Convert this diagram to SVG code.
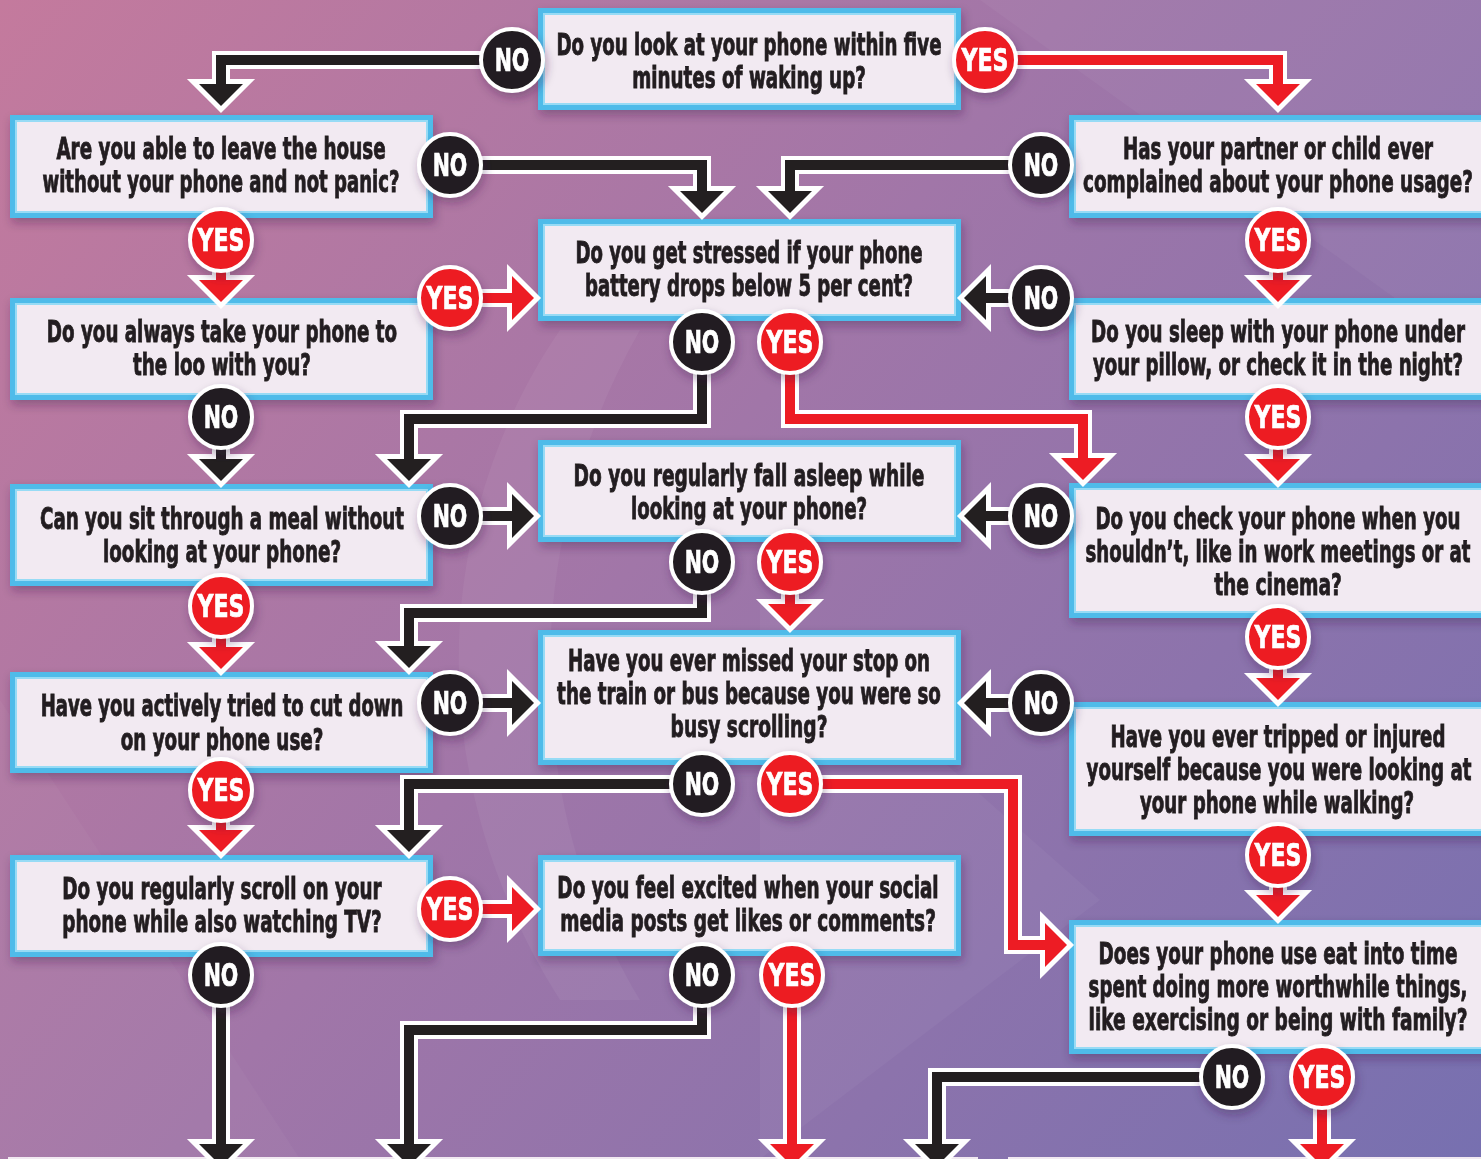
<svg xmlns="http://www.w3.org/2000/svg" width="1481" height="1159" viewBox="0 0 1481 1159">
<defs>
<linearGradient id="bg" x1="0" y1="0" x2="1481" y2="1159" gradientUnits="userSpaceOnUse">
<stop offset="0" stop-color="#c47a9d"/>
<stop offset="0.45" stop-color="#a176a8"/>
<stop offset="1" stop-color="#7770b0"/>
</linearGradient>
<filter id="sh" x="-20%" y="-20%" width="140%" height="150%">
<feDropShadow dx="2" dy="5" stdDeviation="5" flood-color="#3b1d4a" flood-opacity="0.35"/>
</filter>
<style>
.bo{fill:#50bbe9}
.bi{fill:#97dbf5}
.bf{fill:#f2eaf2}
.q{font-family:"Liberation Sans Narrow","DejaVu Sans Condensed","Liberation Sans",sans-serif;font-weight:700;font-size:31px;fill:#231f20;stroke:#231f20;stroke-width:0.9;text-anchor:middle}
.lb{font-family:"Liberation Sans Narrow","DejaVu Sans Condensed","Liberation Sans",sans-serif;font-weight:700;font-size:32px;fill:#fff;stroke:#fff;stroke-width:0.7;text-anchor:middle}
.no{fill:#231f20;stroke:#fff;stroke-width:4}
.yes{fill:#ed1c24;stroke:#fff;stroke-width:4}
.ws{fill:none;stroke:#fff;stroke-width:18;stroke-linejoin:miter;stroke-linecap:butt}
.wh{fill:#fff;stroke:#fff;stroke-width:10;stroke-linejoin:miter;stroke-miterlimit:10}
.ks{fill:none;stroke:#231f20;stroke-width:10;stroke-linejoin:miter}
.kh{fill:#231f20}
.rs{fill:none;stroke:#ed1c24;stroke-width:10;stroke-linejoin:miter}
.rh{fill:#ed1c24}
</style>
</defs>
<rect width="1481" height="1159" fill="url(#bg)"/>
<g fill="#fff">
<polygon points="980,0 1481,0 1481,360" opacity="0.04"/>
<path d="M560,330 C430,520 420,780 560,1000 L640,1000 C520,800 520,540 640,330 Z" opacity="0.05"/>
<polygon points="0,700 300,1159 0,1159" opacity="0.03"/>
<polygon points="760,600 1100,900 760,1159" opacity="0.04"/>
</g>
<g id="bottom-strips" fill="#f1e9f1">
<rect x="8" y="1157" width="970" height="2"/>
<rect x="1008" y="1157" width="473" height="2"/>
</g>
<g id="boxes" filter="url(#sh)">
<g id="q-wake"><rect class="bo" x="538" y="8" width="423" height="102"/><rect class="bi" x="543" y="13" width="413" height="92"/><rect class="bf" x="545" y="15" width="409" height="88"/>
<text class="q" transform="translate(749,0) scale(0.62,1)" x="0" y="55" textLength="621" lengthAdjust="spacingAndGlyphs">Do you look at your phone within five</text>
<text class="q" transform="translate(749,0) scale(0.62,1)" x="0" y="88" textLength="377" lengthAdjust="spacingAndGlyphs">minutes of waking up?</text></g>
<g id="q-leave"><rect class="bo" x="10" y="115" width="423" height="103"/><rect class="bi" x="15" y="120" width="413" height="93"/><rect class="bf" x="17" y="122" width="409" height="89"/>
<text class="q" transform="translate(221,0) scale(0.62,1)" x="0" y="159" textLength="531" lengthAdjust="spacingAndGlyphs">Are you able to leave the house</text>
<text class="q" transform="translate(221,0) scale(0.62,1)" x="0" y="192" textLength="576" lengthAdjust="spacingAndGlyphs">without your phone and not panic?</text></g>
<g id="q-partner"><rect class="bo" x="1069" y="115" width="430" height="103"/><rect class="bi" x="1074" y="120" width="420" height="93"/><rect class="bf" x="1076" y="122" width="416" height="89"/>
<text class="q" transform="translate(1278,0) scale(0.62,1)" x="0" y="159" textLength="500" lengthAdjust="spacingAndGlyphs">Has your partner or child ever</text>
<text class="q" transform="translate(1278,0) scale(0.62,1)" x="0" y="192" textLength="629" lengthAdjust="spacingAndGlyphs">complained about your phone usage?</text></g>
<g id="q-battery"><rect class="bo" x="538" y="219" width="423" height="102"/><rect class="bi" x="543" y="224" width="413" height="92"/><rect class="bf" x="545" y="226" width="409" height="88"/>
<text class="q" transform="translate(749,0) scale(0.62,1)" x="0" y="263" textLength="560" lengthAdjust="spacingAndGlyphs">Do you get stressed if your phone</text>
<text class="q" transform="translate(749,0) scale(0.62,1)" x="0" y="296" textLength="529" lengthAdjust="spacingAndGlyphs">battery drops below 5 per cent?</text></g>
<g id="q-loo"><rect class="bo" x="10" y="298" width="423" height="102"/><rect class="bi" x="15" y="303" width="413" height="92"/><rect class="bf" x="17" y="305" width="409" height="88"/>
<text class="q" transform="translate(222,0) scale(0.62,1)" x="0" y="342" textLength="565" lengthAdjust="spacingAndGlyphs">Do you always take your phone to</text>
<text class="q" transform="translate(222,0) scale(0.62,1)" x="0" y="375" textLength="287" lengthAdjust="spacingAndGlyphs">the loo with you?</text></g>
<g id="q-pillow"><rect class="bo" x="1069" y="298" width="430" height="102"/><rect class="bi" x="1074" y="303" width="420" height="92"/><rect class="bf" x="1076" y="305" width="416" height="88"/>
<text class="q" transform="translate(1278,0) scale(0.62,1)" x="0" y="342" textLength="603" lengthAdjust="spacingAndGlyphs">Do you sleep with your phone under</text>
<text class="q" transform="translate(1278,0) scale(0.62,1)" x="0" y="375" textLength="597" lengthAdjust="spacingAndGlyphs">your pillow, or check it in the night?</text></g>
<g id="q-asleep"><rect class="bo" x="538" y="440" width="423" height="102"/><rect class="bi" x="543" y="445" width="413" height="92"/><rect class="bf" x="545" y="447" width="409" height="88"/>
<text class="q" transform="translate(749,0) scale(0.62,1)" x="0" y="486" textLength="566" lengthAdjust="spacingAndGlyphs">Do you regularly fall asleep while</text>
<text class="q" transform="translate(749,0) scale(0.62,1)" x="0" y="519" textLength="381" lengthAdjust="spacingAndGlyphs">looking at your phone?</text></g>
<g id="q-meal"><rect class="bo" x="10" y="484" width="423" height="102"/><rect class="bi" x="15" y="489" width="413" height="92"/><rect class="bf" x="17" y="491" width="409" height="88"/>
<text class="q" transform="translate(222,0) scale(0.62,1)" x="0" y="529" textLength="587" lengthAdjust="spacingAndGlyphs">Can you sit through a meal without</text>
<text class="q" transform="translate(222,0) scale(0.62,1)" x="0" y="562" textLength="384" lengthAdjust="spacingAndGlyphs">looking at your phone?</text></g>
<g id="q-meetings"><rect class="bo" x="1069" y="483" width="430" height="135"/><rect class="bi" x="1074" y="488" width="420" height="125"/><rect class="bf" x="1076" y="490" width="416" height="121"/>
<text class="q" transform="translate(1278,0) scale(0.62,1)" x="0" y="529" textLength="589" lengthAdjust="spacingAndGlyphs">Do you check your phone when you</text>
<text class="q" transform="translate(1278,0) scale(0.62,1)" x="0" y="562" textLength="621" lengthAdjust="spacingAndGlyphs">shouldn’t, like in work meetings or at</text>
<text class="q" transform="translate(1278,0) scale(0.62,1)" x="0" y="595" textLength="206" lengthAdjust="spacingAndGlyphs">the cinema?</text></g>
<g id="q-stop"><rect class="bo" x="538" y="630" width="423" height="135"/><rect class="bi" x="543" y="635" width="413" height="125"/><rect class="bf" x="545" y="637" width="409" height="121"/>
<text class="q" transform="translate(749,0) scale(0.62,1)" x="0" y="671" textLength="584" lengthAdjust="spacingAndGlyphs">Have you ever missed your stop on</text>
<text class="q" transform="translate(749,0) scale(0.62,1)" x="0" y="704" textLength="619" lengthAdjust="spacingAndGlyphs">the train or bus because you were so</text>
<text class="q" transform="translate(749,0) scale(0.62,1)" x="0" y="737" textLength="253" lengthAdjust="spacingAndGlyphs">busy scrolling?</text></g>
<g id="q-cutdown"><rect class="bo" x="10" y="672" width="423" height="101"/><rect class="bi" x="15" y="677" width="413" height="91"/><rect class="bf" x="17" y="679" width="409" height="87"/>
<text class="q" transform="translate(222,0) scale(0.62,1)" x="0" y="716" textLength="585" lengthAdjust="spacingAndGlyphs">Have you actively tried to cut down</text>
<text class="q" transform="translate(222,0) scale(0.62,1)" x="0" y="750" textLength="327" lengthAdjust="spacingAndGlyphs">on your phone use?</text></g>
<g id="q-tripped"><rect class="bo" x="1069" y="702" width="430" height="134"/><rect class="bi" x="1074" y="707" width="420" height="124"/><rect class="bf" x="1076" y="709" width="416" height="120"/>
<text class="q" transform="translate(1278,0) scale(0.62,1)" x="0" y="747" textLength="540" lengthAdjust="spacingAndGlyphs">Have you ever tripped or injured</text>
<text class="q" transform="translate(1279,0) scale(0.62,1)" x="0" y="780" textLength="621" lengthAdjust="spacingAndGlyphs">yourself because you were looking at</text>
<text class="q" transform="translate(1277,0) scale(0.62,1)" x="0" y="813" textLength="442" lengthAdjust="spacingAndGlyphs">your phone while walking?</text></g>
<g id="q-tv"><rect class="bo" x="10" y="855" width="423" height="102"/><rect class="bi" x="15" y="860" width="413" height="92"/><rect class="bf" x="17" y="862" width="409" height="88"/>
<text class="q" transform="translate(222,0) scale(0.62,1)" x="0" y="899" textLength="515" lengthAdjust="spacingAndGlyphs">Do you regularly scroll on your</text>
<text class="q" transform="translate(222,0) scale(0.62,1)" x="0" y="932" textLength="515" lengthAdjust="spacingAndGlyphs">phone while also watching TV?</text></g>
<g id="q-likes"><rect class="bo" x="538" y="855" width="423" height="101"/><rect class="bi" x="543" y="860" width="413" height="91"/><rect class="bf" x="545" y="862" width="409" height="87"/>
<text class="q" transform="translate(748,0) scale(0.62,1)" x="0" y="898" textLength="615" lengthAdjust="spacingAndGlyphs">Do you feel excited when your social</text>
<text class="q" transform="translate(748,0) scale(0.62,1)" x="0" y="931" textLength="606" lengthAdjust="spacingAndGlyphs">media posts get likes or comments?</text></g>
<g id="q-time"><rect class="bo" x="1069" y="920" width="430" height="134"/><rect class="bi" x="1074" y="925" width="420" height="124"/><rect class="bf" x="1076" y="927" width="416" height="120"/>
<text class="q" transform="translate(1278,0) scale(0.62,1)" x="0" y="964" textLength="579" lengthAdjust="spacingAndGlyphs">Does your phone use eat into time</text>
<text class="q" transform="translate(1278,0) scale(0.62,1)" x="0" y="997" textLength="611" lengthAdjust="spacingAndGlyphs">spent doing more worthwhile things,</text>
<text class="q" transform="translate(1278,0) scale(0.62,1)" x="0" y="1030" textLength="611" lengthAdjust="spacingAndGlyphs">like exercising or being with family?</text></g>
</g>
<g id="connectors">
<g id="c1"><path class="ws" d="M512,60 H221 V84"/><polygon class="wh" points="199,84 243,84 221,106"/><path class="ks" d="M512,60 H221 V85"/><polygon class="kh" points="199,84 243,84 221,106"/></g>
<g id="c2"><path class="ws" d="M985,60 H1278 V84"/><polygon class="wh" points="1256,84 1300,84 1278,106"/><path class="rs" d="M985,60 H1278 V85"/><polygon class="rh" points="1256,84 1300,84 1278,106"/></g>
<g id="c3"><path class="ws" d="M450,165 H702 V191"/><polygon class="wh" points="680,191 724,191 702,213"/><path class="ks" d="M450,165 H702 V192"/><polygon class="kh" points="680,191 724,191 702,213"/></g>
<g id="c4"><path class="ws" d="M1041,165 H790 V191"/><polygon class="wh" points="768,191 812,191 790,213"/><path class="ks" d="M1041,165 H790 V192"/><polygon class="kh" points="768,191 812,191 790,213"/></g>
<g id="c5"><path class="ws" d="M221,240 V280"/><polygon class="wh" points="199,280 243,280 221,302"/><path class="rs" d="M221,240 V281"/><polygon class="rh" points="199,280 243,280 221,302"/></g>
<g id="c6"><path class="ws" d="M1278,240 V280"/><polygon class="wh" points="1256,280 1300,280 1278,302"/><path class="rs" d="M1278,240 V281"/><polygon class="rh" points="1256,280 1300,280 1278,302"/></g>
<g id="c7"><path class="ws" d="M450,298 H512"/><polygon class="wh" points="512,276 512,320 534,298"/><path class="rs" d="M450,298 H513"/><polygon class="rh" points="512,276 512,320 534,298"/></g>
<g id="c8"><path class="ws" d="M1041,298 H986"/><polygon class="wh" points="986,276 986,320 964,298"/><path class="ks" d="M1041,298 H985"/><polygon class="kh" points="986,276 986,320 964,298"/></g>
<g id="c9"><path class="ws" d="M702,342 V419 H409 V459"/><polygon class="wh" points="387,459 431,459 409,481"/><path class="ks" d="M702,342 V419 H409 V460"/><polygon class="kh" points="387,459 431,459 409,481"/></g>
<g id="c10"><path class="ws" d="M790,342 V419 H1083 V458"/><polygon class="wh" points="1061,458 1105,458 1083,480"/><path class="rs" d="M790,342 V419 H1083 V459"/><polygon class="rh" points="1061,458 1105,458 1083,480"/></g>
<g id="c11"><path class="ws" d="M221,417 V459"/><polygon class="wh" points="199,459 243,459 221,481"/><path class="ks" d="M221,417 V460"/><polygon class="kh" points="199,459 243,459 221,481"/></g>
<g id="c12"><path class="ws" d="M1278,417 V459"/><polygon class="wh" points="1256,459 1300,459 1278,481"/><path class="rs" d="M1278,417 V460"/><polygon class="rh" points="1256,459 1300,459 1278,481"/></g>
<g id="c13"><path class="ws" d="M450,516 H512"/><polygon class="wh" points="512,494 512,538 534,516"/><path class="ks" d="M450,516 H513"/><polygon class="kh" points="512,494 512,538 534,516"/></g>
<g id="c14"><path class="ws" d="M1041,516 H986"/><polygon class="wh" points="986,494 986,538 964,516"/><path class="ks" d="M1041,516 H985"/><polygon class="kh" points="986,494 986,538 964,516"/></g>
<g id="c15"><path class="ws" d="M702,562 V613 H409 V646"/><polygon class="wh" points="387,646 431,646 409,668"/><path class="ks" d="M702,562 V613 H409 V647"/><polygon class="kh" points="387,646 431,646 409,668"/></g>
<g id="c16"><path class="ws" d="M790,562 V604"/><polygon class="wh" points="768,604 812,604 790,626"/><path class="rs" d="M790,562 V605"/><polygon class="rh" points="768,604 812,604 790,626"/></g>
<g id="c17"><path class="ws" d="M221,606 V647"/><polygon class="wh" points="199,647 243,647 221,669"/><path class="rs" d="M221,606 V648"/><polygon class="rh" points="199,647 243,647 221,669"/></g>
<g id="c18"><path class="ws" d="M1278,637 V678"/><polygon class="wh" points="1256,678 1300,678 1278,700"/><path class="rs" d="M1278,637 V679"/><polygon class="rh" points="1256,678 1300,678 1278,700"/></g>
<g id="c19"><path class="ws" d="M450,703 H512"/><polygon class="wh" points="512,681 512,725 534,703"/><path class="ks" d="M450,703 H513"/><polygon class="kh" points="512,681 512,725 534,703"/></g>
<g id="c20"><path class="ws" d="M1041,703 H986"/><polygon class="wh" points="986,681 986,725 964,703"/><path class="ks" d="M1041,703 H985"/><polygon class="kh" points="986,681 986,725 964,703"/></g>
<g id="c21"><path class="ws" d="M221,790 V830"/><polygon class="wh" points="199,830 243,830 221,852"/><path class="rs" d="M221,790 V831"/><polygon class="rh" points="199,830 243,830 221,852"/></g>
<g id="c22"><path class="ws" d="M702,784 H409 V830"/><polygon class="wh" points="387,830 431,830 409,852"/><path class="ks" d="M702,784 H409 V831"/><polygon class="kh" points="387,830 431,830 409,852"/></g>
<g id="c23"><path class="ws" d="M790,784 H1013 V945 H1045"/><polygon class="wh" points="1045,923 1045,967 1067,945"/><path class="rs" d="M790,784 H1013 V945 H1046"/><polygon class="rh" points="1045,923 1045,967 1067,945"/></g>
<g id="c24"><path class="ws" d="M1278,855 V895"/><polygon class="wh" points="1256,895 1300,895 1278,917"/><path class="rs" d="M1278,855 V896"/><polygon class="rh" points="1256,895 1300,895 1278,917"/></g>
<g id="c25"><path class="ws" d="M450,909 H512"/><polygon class="wh" points="512,887 512,931 534,909"/><path class="rs" d="M450,909 H513"/><polygon class="rh" points="512,887 512,931 534,909"/></g>
<g id="c26"><path class="ws" d="M221,975 V1144"/><polygon class="wh" points="199,1144 243,1144 221,1166"/><path class="ks" d="M221,975 V1145"/><polygon class="kh" points="199,1144 243,1144 221,1166"/></g>
<g id="c27"><path class="ws" d="M702,975 V1030 H409 V1144"/><polygon class="wh" points="387,1144 431,1144 409,1166"/><path class="ks" d="M702,975 V1030 H409 V1145"/><polygon class="kh" points="387,1144 431,1144 409,1166"/></g>
<g id="c28"><path class="ws" d="M792,975 V1144"/><polygon class="wh" points="770,1144 814,1144 792,1166"/><path class="rs" d="M792,975 V1145"/><polygon class="rh" points="770,1144 814,1144 792,1166"/></g>
<g id="c29"><path class="ws" d="M1232,1077 H937 V1144"/><polygon class="wh" points="915,1144 959,1144 937,1166"/><path class="ks" d="M1232,1077 H937 V1145"/><polygon class="kh" points="915,1144 959,1144 937,1166"/></g>
<g id="c30"><path class="ws" d="M1322,1077 V1144"/><polygon class="wh" points="1300,1144 1344,1144 1322,1166"/><path class="rs" d="M1322,1077 V1145"/><polygon class="rh" points="1300,1144 1344,1144 1322,1166"/></g>
</g>
<g id="answer-labels">
<g filter="url(#sh)">
<circle class="no" cx="512" cy="60" r="31"/><circle class="yes" cx="985" cy="60" r="31"/>
<circle class="no" cx="450" cy="165" r="31"/><circle class="no" cx="1041" cy="165" r="31"/>
<circle class="yes" cx="221" cy="240" r="31"/><circle class="yes" cx="1278" cy="240" r="31"/>
<circle class="yes" cx="450" cy="298" r="31"/><circle class="no" cx="1041" cy="298" r="31"/>
<circle class="no" cx="702" cy="342" r="31"/><circle class="yes" cx="790" cy="342" r="31"/>
<circle class="no" cx="221" cy="417" r="31"/><circle class="yes" cx="1278" cy="417" r="31"/>
<circle class="no" cx="450" cy="516" r="31"/><circle class="no" cx="1041" cy="516" r="31"/>
<circle class="no" cx="702" cy="562" r="31"/><circle class="yes" cx="790" cy="562" r="31"/>
<circle class="yes" cx="221" cy="606" r="31"/><circle class="yes" cx="1278" cy="637" r="31"/>
<circle class="no" cx="450" cy="703" r="31"/><circle class="no" cx="1041" cy="703" r="31"/>
<circle class="yes" cx="221" cy="790" r="31"/><circle class="no" cx="702" cy="784" r="31"/><circle class="yes" cx="790" cy="784" r="31"/>
<circle class="yes" cx="1278" cy="855" r="31"/><circle class="yes" cx="450" cy="909" r="31"/>
<circle class="no" cx="221" cy="975" r="31"/><circle class="no" cx="702" cy="975" r="31"/><circle class="yes" cx="792" cy="975" r="31"/>
<circle class="no" cx="1232" cy="1077" r="31"/><circle class="yes" cx="1322" cy="1077" r="31"/>
</g>
<text class="lb" transform="translate(512,0) scale(0.77,1)" x="0" y="71" textLength="45" lengthAdjust="spacingAndGlyphs">NO</text>
<text class="lb" transform="translate(985,0) scale(0.77,1)" x="0" y="71" textLength="61" lengthAdjust="spacingAndGlyphs">YES</text>
<text class="lb" transform="translate(450,0) scale(0.77,1)" x="0" y="176" textLength="45" lengthAdjust="spacingAndGlyphs">NO</text>
<text class="lb" transform="translate(1041,0) scale(0.77,1)" x="0" y="176" textLength="45" lengthAdjust="spacingAndGlyphs">NO</text>
<text class="lb" transform="translate(221,0) scale(0.77,1)" x="0" y="251" textLength="61" lengthAdjust="spacingAndGlyphs">YES</text>
<text class="lb" transform="translate(1278,0) scale(0.77,1)" x="0" y="251" textLength="61" lengthAdjust="spacingAndGlyphs">YES</text>
<text class="lb" transform="translate(450,0) scale(0.77,1)" x="0" y="309" textLength="61" lengthAdjust="spacingAndGlyphs">YES</text>
<text class="lb" transform="translate(1041,0) scale(0.77,1)" x="0" y="309" textLength="45" lengthAdjust="spacingAndGlyphs">NO</text>
<text class="lb" transform="translate(702,0) scale(0.77,1)" x="0" y="353" textLength="45" lengthAdjust="spacingAndGlyphs">NO</text>
<text class="lb" transform="translate(790,0) scale(0.77,1)" x="0" y="353" textLength="61" lengthAdjust="spacingAndGlyphs">YES</text>
<text class="lb" transform="translate(221,0) scale(0.77,1)" x="0" y="428" textLength="45" lengthAdjust="spacingAndGlyphs">NO</text>
<text class="lb" transform="translate(1278,0) scale(0.77,1)" x="0" y="428" textLength="61" lengthAdjust="spacingAndGlyphs">YES</text>
<text class="lb" transform="translate(450,0) scale(0.77,1)" x="0" y="527" textLength="45" lengthAdjust="spacingAndGlyphs">NO</text>
<text class="lb" transform="translate(1041,0) scale(0.77,1)" x="0" y="527" textLength="45" lengthAdjust="spacingAndGlyphs">NO</text>
<text class="lb" transform="translate(702,0) scale(0.77,1)" x="0" y="573" textLength="45" lengthAdjust="spacingAndGlyphs">NO</text>
<text class="lb" transform="translate(790,0) scale(0.77,1)" x="0" y="573" textLength="61" lengthAdjust="spacingAndGlyphs">YES</text>
<text class="lb" transform="translate(221,0) scale(0.77,1)" x="0" y="617" textLength="61" lengthAdjust="spacingAndGlyphs">YES</text>
<text class="lb" transform="translate(1278,0) scale(0.77,1)" x="0" y="648" textLength="61" lengthAdjust="spacingAndGlyphs">YES</text>
<text class="lb" transform="translate(450,0) scale(0.77,1)" x="0" y="714" textLength="45" lengthAdjust="spacingAndGlyphs">NO</text>
<text class="lb" transform="translate(1041,0) scale(0.77,1)" x="0" y="714" textLength="45" lengthAdjust="spacingAndGlyphs">NO</text>
<text class="lb" transform="translate(221,0) scale(0.77,1)" x="0" y="801" textLength="61" lengthAdjust="spacingAndGlyphs">YES</text>
<text class="lb" transform="translate(702,0) scale(0.77,1)" x="0" y="795" textLength="45" lengthAdjust="spacingAndGlyphs">NO</text>
<text class="lb" transform="translate(790,0) scale(0.77,1)" x="0" y="795" textLength="61" lengthAdjust="spacingAndGlyphs">YES</text>
<text class="lb" transform="translate(1278,0) scale(0.77,1)" x="0" y="866" textLength="61" lengthAdjust="spacingAndGlyphs">YES</text>
<text class="lb" transform="translate(450,0) scale(0.77,1)" x="0" y="920" textLength="61" lengthAdjust="spacingAndGlyphs">YES</text>
<text class="lb" transform="translate(221,0) scale(0.77,1)" x="0" y="986" textLength="45" lengthAdjust="spacingAndGlyphs">NO</text>
<text class="lb" transform="translate(702,0) scale(0.77,1)" x="0" y="986" textLength="45" lengthAdjust="spacingAndGlyphs">NO</text>
<text class="lb" transform="translate(792,0) scale(0.77,1)" x="0" y="986" textLength="61" lengthAdjust="spacingAndGlyphs">YES</text>
<text class="lb" transform="translate(1232,0) scale(0.77,1)" x="0" y="1088" textLength="45" lengthAdjust="spacingAndGlyphs">NO</text>
<text class="lb" transform="translate(1322,0) scale(0.77,1)" x="0" y="1088" textLength="61" lengthAdjust="spacingAndGlyphs">YES</text>
</g>
</svg>
